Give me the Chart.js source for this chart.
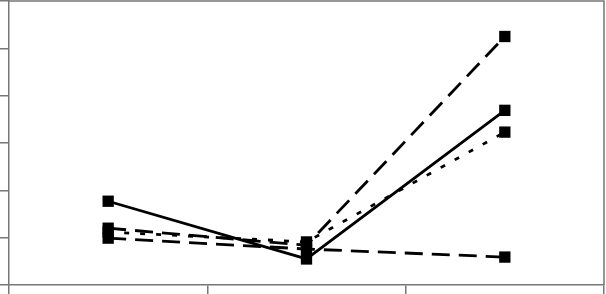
<!DOCTYPE html>
<html>
<head>
<meta charset="utf-8">
<script src="https://cdn.jsdelivr.net/npm/chart.js@4/dist/chart.umd.min.js"></script>
<style>
  html, body { margin: 0; padding: 0; background: #fff; }
  #wrap { width: 606px; height: 294px; }
</style>
</head>
<body>
<div id="wrap"><canvas id="lineChart" width="606" height="294"></canvas></div>
<script>
// categories (no labels shown in the picture)
const categories = ["1", "2", "3"];

// series values
const solidSeries = [1.77, 0.55, 3.69];
const longDashSeries = [1.2, 0.84, 5.25];
const dottedSeries = [1.12, 0.91, 3.23];
const dashSeries = [0.99, 0.76, 0.59];

// y axis range
const yMin = 0;
const yMax = 6;
const yStep = 1;

const axisGrey = "#777";

// draws the top and right edge of the plot area
const frameLines = {
  id: "frameLines",
  afterDraw(chart) {
    const { ctx, chartArea } = chart;
    ctx.save();
    ctx.strokeStyle = axisGrey;
    ctx.lineWidth = 1.5;
    ctx.beginPath();
    ctx.moveTo(chartArea.left, chartArea.top);
    ctx.lineTo(chartArea.right, chartArea.top);
    ctx.lineTo(chartArea.right, chartArea.bottom);
    ctx.stroke();
    ctx.restore();
  },
};

function makeSeries(label, values, dash) {
  return {
    label: label,
    data: values,
    borderColor: "#000",
    backgroundColor: "#000",
    borderWidth: 2.8,
    borderDash: dash,
    pointStyle: "rect",
    pointRadius: 8,
    pointHoverRadius: 8,
    pointBackgroundColor: "#000",
    pointBorderWidth: 0,
    tension: 0,
  };
}

const ctx = document.getElementById("lineChart").getContext("2d");
new Chart(ctx, {
  type: "line",
  data: {
    labels: categories,
    datasets: [
      makeSeries("A", solidSeries, []),
      makeSeries("B", longDashSeries, [18, 9]),
      makeSeries("C", dottedSeries, [5, 11]),
      makeSeries("D", dashSeries, [18, 9]),
    ],
  },
  options: {
    responsive: false,
    animation: false,
    layout: { autoPadding: false, padding: { top: 1, right: 2, left: 0, bottom: 0 } },
    plugins: {
      legend: { display: false },
      tooltip: { enabled: false },
    },
    scales: {
      x: {
        type: "category",
        offset: true,
        grid: {
          offset: true,
          drawOnChartArea: false,
          drawTicks: true,
          tickLength: 9,
          color: axisGrey,
          lineWidth: 1.5,
        },
        border: { display: true, color: axisGrey, width: 1.5 },
        ticks: { display: false },
      },
      y: {
        min: yMin,
        max: yMax,
        ticks: { display: false, stepSize: yStep },
        grid: {
          drawOnChartArea: false,
          drawTicks: true,
          tickLength: 9,
          color: axisGrey,
          lineWidth: 1.5,
        },
        border: { display: true, color: axisGrey, width: 1.5 },
      },
    },
  },
  plugins: [frameLines],
});
</script>
</body>
</html>
